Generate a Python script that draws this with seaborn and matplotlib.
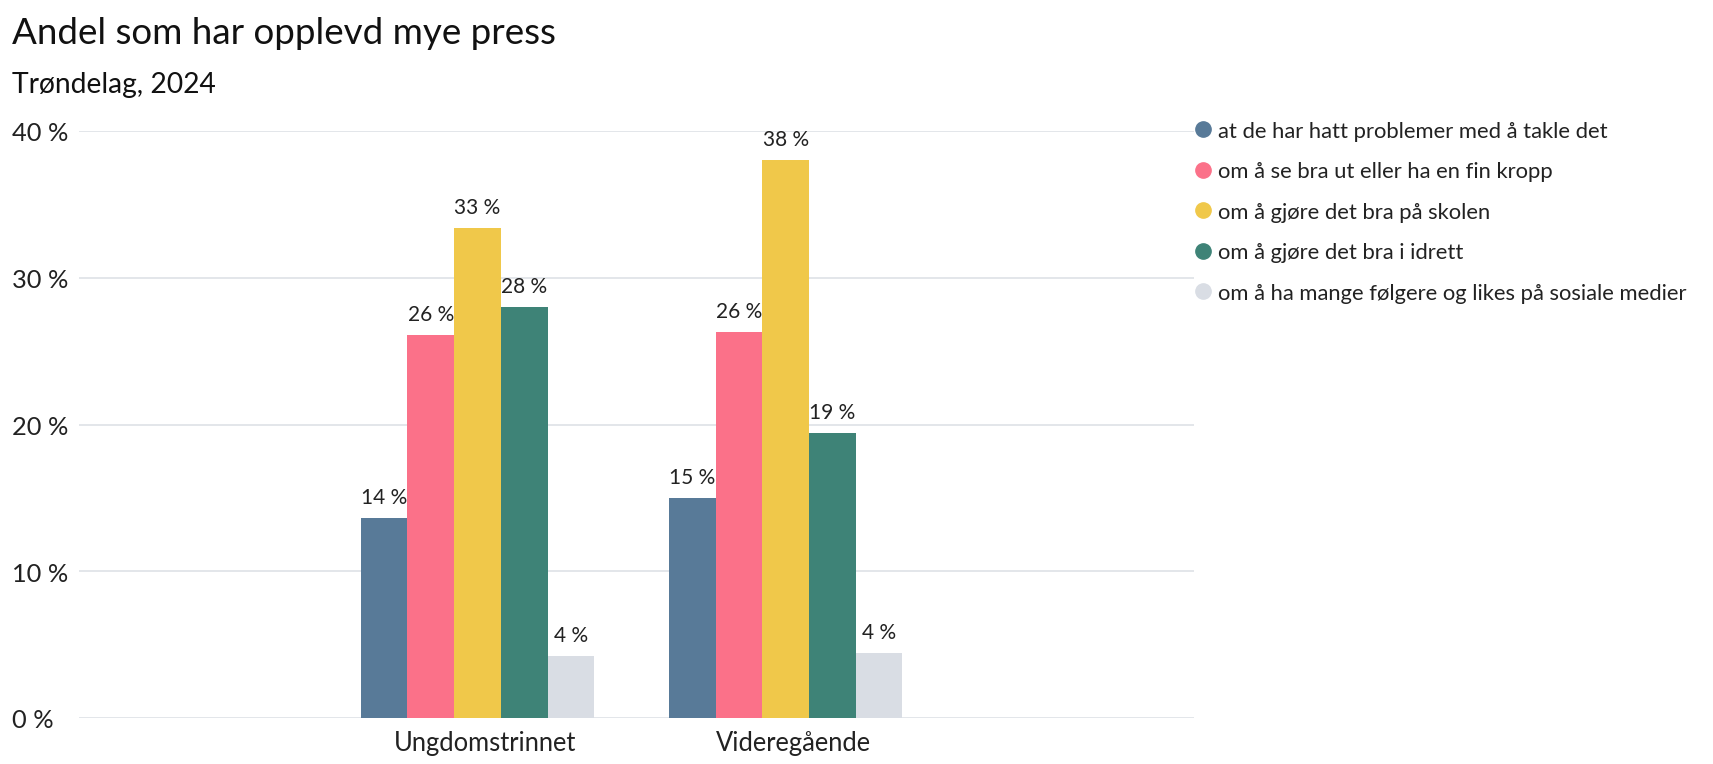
import matplotlib
matplotlib.use("Agg")
import matplotlib.pyplot as plt
import matplotlib.transforms as mtransforms
from matplotlib.lines import Line2D
import seaborn as sns
import pandas as pd

# --- data ---
trinn = ["Ungdomstrinnet", "Videregående"]
temaer = [
    "at de har hatt problemer med å takle det",
    "om å se bra ut eller ha en fin kropp",
    "om å gjøre det bra på skolen",
    "om å gjøre det bra i idrett",
    "om å ha mange følgere og likes på sosiale medier",
]
ungdom = [13.6, 26.1, 33.4, 28.0, 4.2]
vgs = [15.0, 26.3, 38.0, 19.4, 4.4]
farger = ["#587a98", "#fb7189", "#f0c84a", "#3e8377", "#d9dde4"]
yticks = [0, 10, 20, 30, 40]

rows = []
for tema, u, v in zip(temaer, ungdom, vgs):
    rows.append({"trinn": trinn[0], "tema": tema, "andel": u})
    rows.append({"trinn": trinn[1], "tema": tema, "andel": v})
df = pd.DataFrame(rows)

sns.set_theme(style="white")
plt.rcParams["font.family"] = ["Lato", "DejaVu Sans"]

W, H = 1713, 765
fig = plt.figure(figsize=(W / 100, 7.6499), dpi=100)
ax = fig.add_axes([79 / W, 1 - 719 / H, (1194 - 79) / W, (719 - 132) / H])

sns.barplot(data=df, x="trinn", y="andel", hue="tema", hue_order=temaer,
            palette=farger, saturation=1, width=0.758, gap=0, legend=False,
            errorbar=None, ax=ax, linewidth=0)

for cont in ax.containers:
    ax.bar_label(cont, labels=[f"{b.get_height():.0f} %" for b in cont],
                 padding=8, fontsize=15, color="#222222")

ax.set_ylim(0, 40)
ax.set_xlim(-1.293, 2.325)
ax.set_yticks(yticks)
ax.set_yticklabels([f"{t} %" for t in yticks])
ax.yaxis.grid(True, color="#e3e6ea", linewidth=1.4)
ax.set_axisbelow(True)
for s in ax.spines.values():
    s.set_visible(False)
ax.set_xlabel("")
ax.set_ylabel("")
ax.tick_params(axis="y", length=0, pad=48, labelsize=18.3, labelcolor="#222222")
for lab in ax.get_yticklabels():
    lab.set_horizontalalignment("left")
ax.tick_params(axis="x", length=0, pad=9, labelsize=18.4, labelcolor="#222222")
shift = mtransforms.ScaledTranslation(7.5 / 100, 0, fig.dpi_scale_trans)
for lab in ax.get_xticklabels():
    lab.set_transform(lab.get_transform() + shift)

fig.text(12 / W, 1 - 44 / H, "Andel som har opplevd mye press", fontsize=26.5,
         va="baseline", ha="left", color="#111111")
fig.text(12 / W, 1 - 93 / H, "Trøndelag, 2024", fontsize=20.3,
         va="baseline", ha="left", color="#111111")

handles = [Line2D([0], [0], marker="o", linestyle="", markersize=11,
                  markerfacecolor=c, markeredgecolor=c) for c in farger]
fig.legend(handles, temaer, loc="upper left", bbox_to_anchor=(1194 / W, 1 - 122 / H),
           frameon=False, fontsize=15.8, handlelength=0.8, handletextpad=0.3,
           labelspacing=0.93, borderaxespad=0, borderpad=0, labelcolor="#222222")

fig.savefig("out.png", dpi=100)
